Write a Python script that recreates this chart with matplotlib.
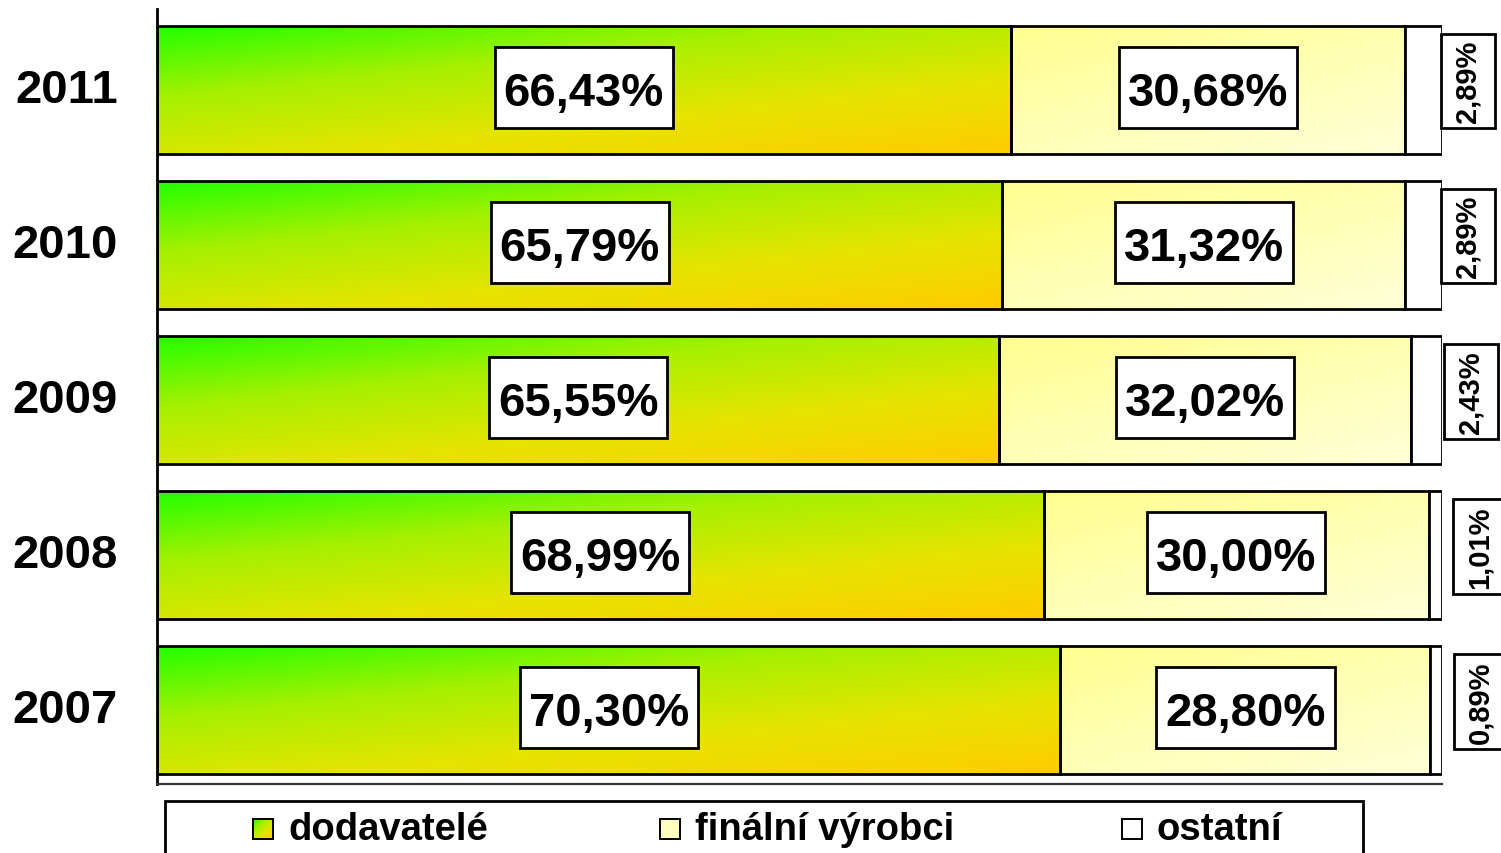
import matplotlib.pyplot as plt
import matplotlib.transforms as mtransforms
import numpy as np
from matplotlib.colors import LinearSegmentedColormap
from matplotlib.patches import Rectangle

plt.rcParams["font.family"] = ["Liberation Sans", "DejaVu Sans"]
plt.rcParams["font.weight"] = "bold"

# Data (bottom to top)
years = ["2007", "2008", "2009", "2010", "2011"]
dodavatele = [70.30, 68.99, 65.55, 65.79, 66.43]
finalni = [28.80, 30.00, 32.02, 31.32, 30.68]
ostatni = [0.89, 1.01, 2.43, 2.89, 2.89]
labels_small = ["0,89%", "1,01%", "2,43%", "2,89%", "2,89%"]
series_names = ["dodavatelé", "finální výrobci", "ostatní"]

green_cmap = LinearSegmentedColormap.from_list(
    "g", ["#22ff00", "#a8f000", "#e6e400", "#ffcc00"]
)
yellow_cmap = LinearSegmentedColormap.from_list("y", ["#ffff90", "#ffffd8"])


def fmt(v):
    return f"{v:.2f}%".replace(".", ",")


def gradient_fill(ax, patch, cmap):
    # diagonal gradient inside the bar: top-left -> bottom-right
    x0, y0 = patch.get_x(), patch.get_y()
    w, h = patch.get_width(), patch.get_height()
    u = np.linspace(0, 1, 200)
    v = np.linspace(0, 1, 60)
    uu, vv = np.meshgrid(u, v)
    z = 0.42 * uu + 0.58 * vv
    im = ax.imshow(z, cmap=cmap, extent=(x0, x0 + w, y0, y0 + h), origin="upper",
                   aspect="auto", vmin=0, vmax=1, zorder=1)
    im.set_clip_path(patch)


fig = plt.figure(figsize=(15.01, 8.54), dpi=100)
ax = fig.add_axes([157 / 1501, 69 / 854, 1285 / 1501, 775 / 854])

y = np.arange(len(years))
h = 0.826
lw = 2.0
b1 = ax.barh(y, dodavatele, height=h, color="none", edgecolor="black", linewidth=lw, zorder=2)
b2 = ax.barh(y, finalni, left=dodavatele, height=h, color="none", edgecolor="black",
             linewidth=lw, zorder=2)
left3 = np.array(dodavatele) + np.array(finalni)
b3 = ax.barh(y, ostatni, left=left3, height=h, color="white", edgecolor="black",
             linewidth=lw, zorder=2)

for p in b1:
    gradient_fill(ax, p, green_cmap)
for p in b2:
    gradient_fill(ax, p, yellow_cmap)

big_texts = []
small_texts = []
for i in range(len(years)):
    for xc, v in [(dodavatele[i] / 2, dodavatele[i]),
                  (dodavatele[i] + finalni[i] / 2, finalni[i])]:
        t = ax.annotate(fmt(v), (xc, y[i]), xytext=(0, -11), textcoords="offset points",
                        ha="center", va="baseline", fontsize=34, fontweight="bold",
                        zorder=6)
        big_texts.append((t, y[i]))
    t = ax.annotate(labels_small[i], (left3[i] + ostatni[i] / 2, y[i]), xytext=(32, 6),
                    textcoords="offset points", rotation=90, ha="center", va="center",
                    fontsize=21, fontweight="bold", annotation_clip=False, zorder=6)
    small_texts.append(t)

ax.set_xlim(0, 100)
ax.set_ylim(-0.48, 4.52)
ax.set_yticks(y)
ax.set_yticklabels(years, fontsize=34, fontweight="bold")
ax.tick_params(axis="y", length=0, pad=28)
shift = mtransforms.ScaledTranslation(0, 3 / 72, fig.dpi_scale_trans)
for lab in ax.get_yticklabels():
    lab.set_transform(lab.get_transform() + shift)
ax.set_xticks([])
for s in ["top", "right"]:
    ax.spines[s].set_visible(False)
ax.spines["left"].set_linewidth(lw)
ax.spines["bottom"].set_linewidth(1.6)
ax.spines["bottom"].set_color("#333333")

# white label boxes sized from the rendered text
fig.canvas.draw()
inv = ax.transData.inverted()
for t, yc in big_texts:
    bb = t.get_window_extent()
    cy = ax.transData.transform((0, yc))[1] + 2.5
    (dx0, dy0) = inv.transform((bb.x0 - 9, cy - 40.5))
    (dx1, dy1) = inv.transform((bb.x1 + 9, cy + 40.5))
    ax.add_patch(Rectangle((dx0, dy0), dx1 - dx0, dy1 - dy0, facecolor="white",
                           edgecolor="black", linewidth=lw, zorder=5, clip_on=False))
for t in small_texts:
    bb = t.get_window_extent()
    (dx0, dy0) = inv.transform((bb.x0 - 13, bb.y0 - 6))
    (dx1, dy1) = inv.transform((bb.x1 + 13, bb.y1 + 6))
    ax.add_patch(Rectangle((dx0, dy0), dx1 - dx0, dy1 - dy0, facecolor="white",
                           edgecolor="black", linewidth=lw, zorder=5, clip_on=False))

# legend box (cut off at the bottom of the figure)
tf = fig.transFigure
fig.patches.append(Rectangle((165 / 1501, -0.05), (1363 - 165) / 1501, 0.05 + 52 / 854,
                             transform=tf, facecolor="white", edgecolor="black",
                             linewidth=lw))
marker_x = [253, 660, 1122]
fills = [None, "#ffffc0", "white"]
for mx, name, fc in zip(marker_x, series_names, fills):
    x0 = mx / 1501
    y0 = 14 / 854
    if fc is None:
        lax = fig.add_axes([x0, y0, 20 / 1501, 20 / 854])
        lax.set_zorder(5)
        lax.imshow(np.add.outer(np.linspace(0, 1, 20), np.linspace(0, 1, 20)) / 2,
                   cmap=green_cmap, aspect="auto")
        lax.set_xticks([])
        lax.set_yticks([])
        for sp in lax.spines.values():
            sp.set_linewidth(1.4)
    else:
        fig.patches.append(Rectangle((x0, y0), 20 / 1501, 20 / 854, transform=tf,
                                     facecolor=fc, edgecolor="black", linewidth=1.4,
                                     zorder=5))
    fig.text((mx + 35) / 1501, 14 / 854, name, fontsize=27.5, fontweight="bold",
             ha="left", va="baseline", zorder=6)

fig.savefig("out.png", dpi=100)
